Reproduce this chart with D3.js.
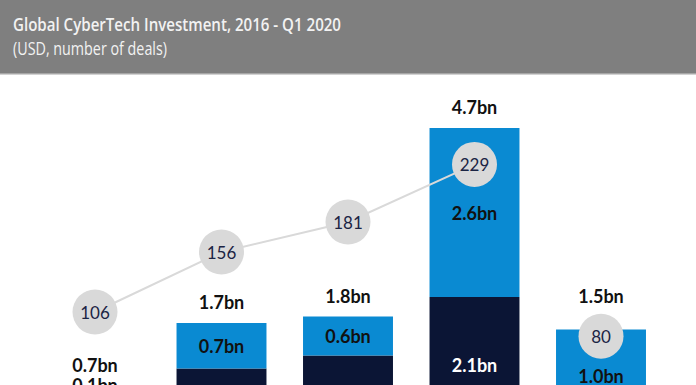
<!DOCTYPE html>
<html><head><meta charset="utf-8">
<script src="https://cdn.jsdelivr.net/npm/d3@7"></script>
<style>body{margin:0;background:#fff}svg{display:block}</style>
</head><body>
<svg id="c" width="696" height="385"></svg>
<script>
const categories = ["2016","2017","2018","2019","Q1 2020"];
const darkValues = [0.6, 1.0, 1.2, 2.1, 0.6];   // bn USD (lower segment)
const lightValues = [0.1, 0.7, 0.6, 2.6, 1.0];  // bn USD (upper segment)
const totalLabels = ["0.7bn","1.7bn","1.8bn","4.7bn","1.5bn"];
const darkLabels = ["0.6bn","1.0bn","1.2bn","2.1bn","0.5bn"];
const lightLabels = ["0.1bn","0.7bn","0.6bn","2.6bn","1.0bn"];
const deals = [106, 156, 181, 229, 80];
const title = "Global CyberTech Investment, 2016 - Q1 2020";
const subtitle = "(USD, number of deals)";

const W = 696, H = 385;
const svg = d3.select("#c");
const font = "Lato, 'Open Sans', sans-serif";
const hfont = "'Open Sans', sans-serif";

svg.append("rect").attr("x",0).attr("y",0).attr("width",W).attr("height",73).attr("fill","#7f7f7f");
svg.append("rect").attr("x",0).attr("y",73).attr("width",W).attr("height",1.5).attr("fill","#a6a6a6");
svg.append("text").attr("x",13).attr("y",31).attr("fill","#f2f2f2")
  .attr("font-family",hfont).attr("font-size",18).attr("font-weight",600)
  .attr("textLength",328).attr("lengthAdjust","spacingAndGlyphs").text(title);
svg.append("text").attr("x",13).attr("y",55).attr("fill","#f2f2f2")
  .attr("font-family",hfont).attr("font-size",17.5)
  .attr("textLength",154).attr("lengthAdjust","spacingAndGlyphs").text(subtitle);

const x = d3.scaleBand().domain(categories).range([31.75, 664.25]).paddingInner(0.289).paddingOuter(0.1445);
const y = d3.scaleLinear().domain([0, 4.7]).range([433.5, 128]);
const yd = d3.scaleLinear().domain([106, 229]).range([312, 164.4]);

const data = categories.map((c,i)=>({c, d:darkValues[i], l:lightValues[i], i}));
const g = svg.append("g");

// bars
g.selectAll("rect.dark").data(data).join("rect").attr("class","dark")
  .attr("x",d=>x(d.c)).attr("width",x.bandwidth())
  .attr("y",d=>y(d.d)).attr("height",d=>y(0)-y(d.d)).attr("fill","#0b1535");
g.selectAll("rect.light").data(data).join("rect").attr("class","light")
  .attr("x",d=>x(d.c)).attr("width",x.bandwidth())
  .attr("y",d=>y(d.d+d.l)).attr("height",d=>y(d.d)-y(d.d+d.l)).attr("fill","#0a8ad2");

const cx = d => x(d.c) + x.bandwidth()/2;
const lbl = (sel)=>sel.attr("text-anchor","middle").attr("dominant-baseline","central")
  .attr("font-family",font).attr("font-weight",700).attr("font-size",18);

// segment labels (only those whose position falls inside the visible frame)
g.selectAll("text.dl").data(data.filter(d=>(y(0)+y(d.d))/2 < H-8)).join("text").attr("class","dl").call(lbl)
  .attr("x",cx).attr("y",d=>(y(0)+y(d.d))/2).attr("fill","#ffffff")
  .text(d=>darkLabels[d.i]);
g.selectAll("text.ll").data(data).join("text").attr("class","ll").call(lbl)
  .attr("x",cx).attr("y",d=>{
    const top=y(d.d+d.l), bot=y(d.d);
    if (bot-top < 20) return top-3;
    let m=(top+bot)/2;
    if (d.i===4) m += 14;
    return m;
  }).attr("fill","#111111")
  .text(d=>lightLabels[d.i]);
g.selectAll("text.tl").data(data).join("text").attr("class","tl").call(lbl)
  .attr("x",cx).attr("y",d=>{
    const top=y(d.d+d.l), bot=y(d.d);
    if (d.i===4) return top-34;
    return (bot-top<20) ? top-23 : top-21;
  }).attr("fill","#111111")
  .text(d=>totalLabels[d.i]);

// deals line (first four connected)
const line = d3.line().x(cx).y(d=>yd(deals[d.i]));
g.append("path").datum(data.slice(0,4)).attr("d",line)
  .attr("fill","none").attr("stroke","#d9d9d9").attr("stroke-width",2);
const cy = d => d.i===4 ? yd(deals[d.i])-7 : yd(deals[d.i]);
g.selectAll("circle.deal").data(data).join("circle").attr("class","deal")
  .attr("cx",cx).attr("cy",cy).attr("r",22.5).attr("fill","#d9d9d9");
g.selectAll("text.deal").data(data).join("text").attr("class","deal")
  .attr("x",cx).attr("y",cy)
  .attr("text-anchor","middle").attr("dominant-baseline","central")
  .attr("font-family",font).attr("font-size",17).attr("fill","#1b2444")
  .text(d=>deals[d.i]);
</script>
</body></html>
